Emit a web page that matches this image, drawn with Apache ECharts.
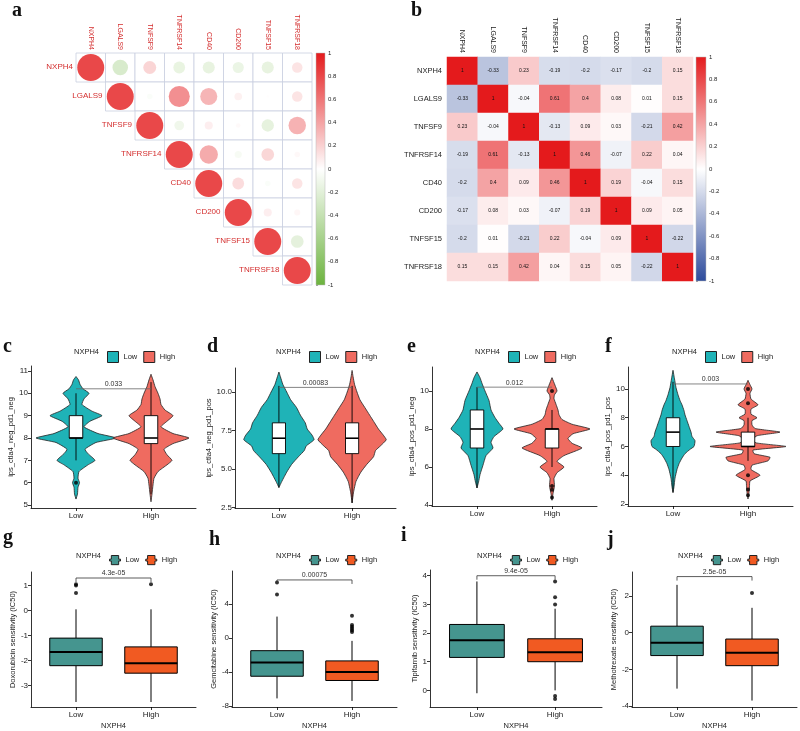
<!DOCTYPE html>
<html><head><meta charset="utf-8">
<script src="https://cdn.jsdelivr.net/npm/echarts@6/dist/echarts.min.js"></script>
<style>html,body{margin:0;padding:0;background:#fff}#main{width:800px;height:731px}</style>
</head><body><div id="main"></div>
<script>
// ---------------- DATA ----------------
const GENES = ['NXPH4','LGALS9','TNFSF9','TNFRSF14','CD40','CD200','TNFSF15','TNFRSF18'];
const CORR = [
  [1,-0.33,0.23,-0.19,-0.2,-0.17,-0.2,0.15],
  [-0.33,1,-0.04,0.61,0.4,0.08,0.01,0.15],
  [0.23,-0.04,1,-0.13,0.09,0.03,-0.21,0.42],
  [-0.19,0.61,-0.13,1,0.46,-0.07,0.22,0.04],
  [-0.2,0.4,0.09,0.46,1,0.19,-0.04,0.15],
  [-0.17,0.08,0.03,-0.07,0.19,1,0.09,0.05],
  [-0.2,0.01,-0.21,0.22,-0.04,0.09,1,-0.22],
  [0.15,0.15,0.42,0.04,0.15,0.05,-0.22,1]
];
const COLORBAR_TICKS = [1,0.8,0.6,0.4,0.2,0,-0.2,-0.4,-0.6,-0.8,-1];
const GROUPS = ['Low','High'];

// violin densities: [y, density]
const C_LOW_DENS = [[5.27,0],[5.5,1.5],[5.8,2],[6.0,3.5],[6.2,2],[6.5,3],[6.8,12],[7.0,19],[7.3,12],[7.5,9],[7.8,20],[8.0,40],[8.2,22],[8.5,8],[8.75,14],[9.0,26],[9.2,16],[9.5,6],[9.75,8],[10.0,13],[10.2,7],[10.4,4],[10.6,2.5],[10.75,0]];
const C_HIGH_DENS = [[5.15,0],[5.5,1],[5.9,2],[6.2,3],[6.5,7],[6.8,16],[7.0,21],[7.25,16],[7.5,13],[7.75,22],[8.0,38],[8.2,22],[8.5,10],[8.75,16],[9.0,22],[9.25,14],[9.5,10],[9.75,9],[10.0,7],[10.3,4],[10.6,2],[10.85,0]];
const D_LOW_DENS = [[3.8,0],[4.2,3],[4.8,8],[5.3,13],[5.8,20],[6.2,26],[6.5,28],[6.9,36],[7.2,34],[7.6,29],[8.0,27],[8.5,22],[9.0,18],[9.5,12],[10.0,8],[10.5,4],[11.0,1.5],[11.3,0]];
const D_HIGH_DENS = [[2.8,0],[3.5,1.5],[4.2,4],[4.8,9],[5.3,15],[5.8,22],[6.2,24],[6.5,29],[6.9,35],[7.2,32],[7.6,27],[8.0,23],[8.5,18],[9.0,13],[9.5,8],[10.0,5],[10.5,2.5],[11.0,1],[11.4,0]];
const E_LOW_DENS = [[4.9,0],[5.2,1.5],[5.6,3],[6.1,6],[6.6,9],[7.0,16],[7.3,14],[7.6,17],[8.0,26],[8.3,22],[8.6,18],[9.0,14],[9.5,12],[10.0,8],[10.4,5],[10.7,3],[11.0,0]];
const E_HIGH_DENS = [[4.25,0],[4.6,1],[5.0,2.5],[5.4,2],[5.7,5],[6.0,12],[6.3,5],[6.6,12],[7.0,30],[7.25,20],[7.5,16],[7.75,21],[8.0,38],[8.25,20],[8.5,10],[8.75,7],[9.0,6],[9.3,4],[9.6,2],[9.8,2.5],[10.0,5],[10.3,3],[10.7,0]];
const F_LOW_DENS = [[2.8,0],[3.2,1],[3.8,2],[4.4,4],[4.8,6],[5.2,9],[5.5,12],[5.8,17],[6.0,21],[6.4,22],[6.7,19],[7.0,18],[7.4,16],[7.8,14],[8.2,12],[8.5,11],[8.9,9],[9.2,7],[9.6,5],[10.1,3],[10.7,1.5],[11.3,0]];
const F_HIGH_DENS = [[2.35,0],[2.8,1],[3.2,1.5],[3.6,2],[4.0,12],[4.4,3],[4.7,4],[5.0,20],[5.25,22],[5.5,6],[5.75,5],[6.0,38],[6.25,8],[6.5,5],[6.75,9],[7.0,32],[7.25,7],[7.5,4],[7.8,4],[8.0,9],[8.25,3],[8.6,3],[8.9,10],[9.3,3],[9.7,2],[10.0,4],[10.3,2],[10.6,0]];

// box stats: [lowerWhisker, Q1, median, Q3, upperWhisker] for Low, High
const C_BOX = [[7,8,8,9,10],[5.5,7.75,8,9,10.5]];
const D_BOX = [[3.8,6,7,8,10.4],[2.8,6,7,8,10.4]];
const E_BOX = [[4.9,7,8,9,10.2],[6,7,8,8,9]];
const F_BOX = [[2.8,6,7,8,10.5],[5,6,6,7,8]];
const G_BOX = [[-3.65,-2.2,-1.65,-1.1,0.05],[-3.65,-2.5,-2.1,-1.45,0.05]];
const H_BOX = [[-7.1,-4.5,-2.9,-1.5,2.5],[-7.4,-5.0,-4.0,-2.7,-0.35]];
const I_BOX = [[-0.1,1.15,1.75,2.3,3.8],[0.0,1.0,1.33,1.8,2.85]];
const J_BOX = [[-3.05,-1.25,-0.55,0.35,2.6],[-3.7,-1.8,-1.1,-0.35,1.35]];

// outliers [Low list, High list]
const C_OUT = [[6.0],[]];
const D_OUT = [[],[]];
const E_OUT = [[],[10,5.0,4.8,4.4]];
const F_OUT = [[],[10,9,4,3,2.6]];
const G_OUT = [[1.05,1.0,0.7],[1.05]];
const H_OUT = [[6.5,5.1],[2.6,1.5,1.3,1.1,0.9,0.7]];
const I_OUT = [[],[3.8,3.25,3.0,-0.2,-0.3]];
const J_OUT = [[],[2.15]];

// p-values and bracket heights
const P_TEXT = {c:'0.033', d:'0.00083', e:'0.012', f:'0.003', g:'4.3e-05', h:'0.00075', i:'9.4e-05', j:'2.5e-05'};
const P_Y = {c:10.2, d:10.3, e:10.2, f:10.35, g:1.3, h:6.8, i:4.0, j:3.05};

// tick labels
const C_TICKS = [5,6,7,8,9,10,11];
const D_TICKS = [2.5,5.0,7.5,10.0];
const E_TICKS = [4,6,8,10];
const F_TICKS = [2,4,6,8,10];
const G_TICKS = [-3,-2,-1,0,1];
const H_TICKS = [-8,-4,0,4];
const I_TICKS = [0,1,2,3,4];
const J_TICKS = [-4,-2,0,2];

// ---------------- STYLE / LAYOUT ----------------
const FONT = 'Liberation Sans, Arial, Helvetica, sans-serif';
const RED_TXT = '#d42f2f';
const VIOLIN_COL = ['#1fb3b7','#ef6b60'];
const BOX_COL = ['#45958f','#f15a22'];
const VSCALE = 1/75;

const chart = echarts.init(document.getElementById('main'), null, {renderer:'canvas'});

const grids = [], xAxes = [], yAxes = [], series = [], legends = [], graphics = [];

function addGrid(g){ grids.push(g); return grids.length-1; }

// ---- Panel a ----
const gA = addGrid({left:76, top:53, width:236, height:232});
xAxes.push({type:'category', gridIndex:gA, data:GENES, position:'top', axisLine:{show:false}, axisTick:{show:false},
  axisLabel:{rotate:90, fontSize:7, color:RED_TXT, margin:3, fontFamily:FONT}, splitLine:{show:false}});
yAxes.push({type:'category', gridIndex:gA, data:GENES, inverse:true, show:false});
const cellData = [], circleData = [];
for (let i=0;i<GENES.length;i++) for (let j=i;j<GENES.length;j++){ cellData.push([j,i]); circleData.push([j,i,CORR[i][j]]); }
series.push({type:'custom', xAxisIndex:gA, yAxisIndex:gA, data:cellData, encode:{x:0,y:1}, silent:true, z:1,
  renderItem:(p,api)=>{ const c=api.coord([api.value(0),api.value(1)]); const s=api.size([1,1]);
    return {type:'rect', shape:{x:c[0]-s[0]/2, y:c[1]-s[1]/2, width:s[0], height:s[1]}, style:{fill:'#fff', stroke:'#c9cfdf', lineWidth:0.8}}; }});
const circleIdx = series.length;
series.push({type:'scatter', xAxisIndex:gA, yAxisIndex:gA, data:circleData, z:3, silent:true,
  symbolSize:(v)=>27*Math.sqrt(Math.abs(v[2]))});
series.push({type:'custom', xAxisIndex:gA, yAxisIndex:gA, data:GENES.map((g,i)=>[i,i]), encode:{x:0,y:1}, silent:true, z:4,
  renderItem:(p,api)=>{ const c=api.coord([api.value(0),api.value(1)]); const s=api.size([1,1]);
    return {type:'text', style:{x:c[0]-s[0]/2-3, y:c[1]-1, text:GENES[p.dataIndex], align:'right', verticalAlign:'middle', fill:RED_TXT, font:'8px '+FONT}}; }});

// colorbar helper
function addColorbar(rect, stops){
  const gi = addGrid(rect);
  xAxes.push({type:'value', gridIndex:gi, min:0, max:1, show:false});
  yAxes.push({type:'value', gridIndex:gi, min:-1, max:1, position:'right', axisLine:{show:false},
    axisTick:{show:true, length:2, inside:false, lineStyle:{color:'#555',width:0.6}, customValues:COLORBAR_TICKS},
    axisLabel:{fontSize:6, color:'#222', margin:3, fontFamily:FONT, customValues:COLORBAR_TICKS, formatter:(v)=>String(v)},
    splitLine:{show:false}});
  series.push({type:'custom', xAxisIndex:gi, yAxisIndex:gi, data:[[0,0]], encode:{x:0,y:1}, silent:true,
    renderItem:(p,api)=>{ const a=api.coord([0,1]); const b=api.coord([1,-1]);
      return {type:'rect', shape:{x:a[0], y:a[1], width:b[0]-a[0], height:b[1]-a[1]},
        style:{fill:new echarts.graphic.LinearGradient(0,0,0,1,[{offset:0,color:stops[2]},{offset:0.5,color:stops[1]},{offset:1,color:stops[0]}]), stroke:'#bbb', lineWidth:0.5}}; }});
}
const A_COLORS = ['#6cb33e','#ffffff','#e41a1c'];
const B_COLORS = ['#2d4b9c','#ffffff','#e41a1c'];
addColorbar({left:316, top:53, width:9, height:232}, A_COLORS);

// ---- Panel b ----
const gB = addGrid({left:447, top:57, width:246, height:224});
xAxes.push({type:'category', gridIndex:gB, data:GENES, position:'top', axisLine:{show:false}, axisTick:{show:false},
  axisLabel:{rotate:90, fontSize:7, color:'#222', margin:4, fontFamily:FONT}});
yAxes.push({type:'category', gridIndex:gB, data:GENES, inverse:true, axisLine:{show:false}, axisTick:{show:false},
  axisLabel:{fontSize:7.5, color:'#222', margin:5, fontFamily:FONT}});
const heatData = [];
for (let i=0;i<GENES.length;i++) for (let j=0;j<GENES.length;j++) heatData.push([j,i,CORR[i][j]]);
const heatIdx = series.length;
series.push({type:'heatmap', xAxisIndex:gB, yAxisIndex:gB, data:heatData, silent:true,
  label:{show:true, fontSize:5, color:'#111', fontFamily:FONT, formatter:(p)=>String(p.value[2])}});
addColorbar({left:696, top:57, width:10, height:224}, B_COLORS);

// ---- violin / box panels ----
function makeAxes(gi, cfg){
  xAxes.push({type:'value', gridIndex:gi, min:0.4, max:2.6,
    axisLine:{show:true, onZero:false, lineStyle:{color:'#000', width:0.8}},
    axisTick:{show:true, length:3, lineStyle:{color:'#000', width:0.8}, customValues:[1,2]},
    axisLabel:{fontSize:8, color:'#222', margin:4, fontFamily:FONT, customValues:[1,2], formatter:(v)=>GROUPS[Math.round(v)-1]||''},
    splitLine:{show:false},
    name:cfg.xName||'', nameLocation:'middle', nameGap:15, nameTextStyle:{fontSize:7.5, color:'#222', fontFamily:FONT}});
  yAxes.push({type:'value', gridIndex:gi, min:cfg.yMin, max:cfg.yMax,
    axisLine:{show:true, onZero:false, lineStyle:{color:'#000', width:0.8}},
    axisTick:{show:true, length:3, lineStyle:{color:'#000', width:0.8}, customValues:cfg.ticks},
    axisLabel:{fontSize:8, color:'#222', margin:3, fontFamily:FONT, customValues:cfg.ticks, formatter:cfg.fmt||((v)=>String(v))},
    splitLine:{show:false},
    name:cfg.yName, nameLocation:'middle', nameGap:cfg.nameGap, nameTextStyle:{fontSize:7.5, color:'#222', fontFamily:FONT}});
}

function boxRender(half, fill, medW, lw){
  return (p, api)=>{
    const x=api.value(0), lo=api.value(1), q1=api.value(2), md=api.value(3), q3=api.value(4), hi=api.value(5);
    const pLo=api.coord([x,lo]), pHi=api.coord([x,hi]), pQ1=api.coord([x,q1]), pQ3=api.coord([x,q3]);
    const a=api.coord([x-half,q3]), b=api.coord([x+half,q1]);
    const mL=api.coord([x-half,md]), mR=api.coord([x+half,md]);
    return {type:'group', children:[
      {type:'line', shape:{x1:pHi[0],y1:pHi[1],x2:pQ3[0],y2:pQ3[1]}, style:{stroke:'#000', lineWidth:lw}},
      {type:'line', shape:{x1:pLo[0],y1:pLo[1],x2:pQ1[0],y2:pQ1[1]}, style:{stroke:'#000', lineWidth:lw}},
      {type:'rect', shape:{x:a[0], y:a[1], width:b[0]-a[0], height:b[1]-a[1]}, style:{fill:fill, stroke:'#000', lineWidth:lw}},
      {type:'line', shape:{x1:mL[0],y1:mL[1],x2:mR[0],y2:mR[1]}, style:{stroke:'#000', lineWidth:medW}}
    ]};
  };
}

function addBracket(gi, key, tickPx, color){
  series.push({type:'custom', xAxisIndex:gi, yAxisIndex:gi, data:[[1,2,P_Y[key]]], encode:{x:[0,1],y:2}, silent:true, z:6,
    renderItem:(p,api)=>{
      const a=api.coord([api.value(0), api.value(2)]), b=api.coord([api.value(1), api.value(2)]);
      return {type:'group', children:[
        {type:'polyline', shape:{points:[[a[0],a[1]+tickPx],[a[0],a[1]],[b[0],b[1]],[b[0],b[1]+tickPx]]}, style:{stroke:color, lineWidth:0.8, fill:null}},
        {type:'text', style:{x:(a[0]+b[0])/2, y:a[1]-1, text:P_TEXT[key], align:'center', verticalAlign:'bottom', fill:'#333', font:'7px '+FONT}}
      ]};
    }});
}

function addOutliers(gi, out){
  const d=[]; out.forEach((arr,k)=>arr.forEach(v=>d.push([k+1,v])));
  series.push({type:'scatter', xAxisIndex:gi, yAxisIndex:gi, data:d, symbolSize:4, itemStyle:{color:'#000'}, silent:true, z:5});
}

function addLegend(left, top, colors, icon){
  legends.push({left:left, top:top, orient:'horizontal', itemWidth:11, itemHeight:11, itemGap:6, selectedMode:false, icon:icon,
    textStyle:{fontSize:7.5, color:'#222', fontFamily:FONT},
    data:GROUPS.map((g,k)=>({name:g, itemStyle:{color:colors[k], borderColor:'#222', borderWidth:1}}))});
  graphics.push({type:'text', left:left-28, top:top+1.5, style:{text:'NXPH4', font:'7.5px '+FONT, fill:'#222'}});
}

const violinPanels = [
  {key:'c', grid:{left:31, top:366, width:165, height:142}, yMin:4.87, yMax:11.22, ticks:C_TICKS, yName:'ips_ctla4_neg_pd1_neg', nameGap:14, dens:[C_LOW_DENS,C_HIGH_DENS], box:C_BOX, out:C_OUT, legendLeft:102},
  {key:'d', grid:{left:235, top:368, width:161, height:140}, yMin:2.47, yMax:11.56, ticks:D_TICKS, fmt:(v)=>v.toFixed(1), yName:'ips_ctla4_neg_pd1_pos', nameGap:20, dens:[D_LOW_DENS,D_HIGH_DENS], box:D_BOX, out:D_OUT, legendLeft:304},
  {key:'e', grid:{left:432, top:367, width:165, height:139}, yMin:3.95, yMax:11.26, ticks:E_TICKS, yName:'ips_ctla4_pos_pd1_neg', nameGap:16, dens:[E_LOW_DENS,E_HIGH_DENS], box:E_BOX, out:E_OUT, legendLeft:503},
  {key:'f', grid:{left:628, top:367, width:165, height:139}, yMin:1.86, yMax:11.53, ticks:F_TICKS, yName:'ips_ctla4_pos_pd1_pos', nameGap:15, dens:[F_LOW_DENS,F_HIGH_DENS], box:F_BOX, out:F_OUT, legendLeft:700}
];
violinPanels.forEach(cfg=>{
  const gi = addGrid(cfg.grid);
  makeAxes(gi, cfg);
  GROUPS.forEach((g,k)=>{
    const prof = cfg.dens[k];
    series.push({type:'custom', name:g, xAxisIndex:gi, yAxisIndex:gi, data:[[k+1, prof[0][0]]], encode:{x:0,y:1}, silent:true, z:2,
      renderItem:(p,api)=>{
        const x=api.value(0); const pts=[];
        prof.forEach(([y,d])=>pts.push(api.coord([x+d*VSCALE,y])));
        for (let m=prof.length-1;m>=0;m--) pts.push(api.coord([x-prof[m][1]*VSCALE, prof[m][0]]));
        return {type:'polygon', shape:{points:pts, smooth:0.15}, style:{fill:VIOLIN_COL[k], stroke:'#222', lineWidth:0.8}};
      }});
  });
  series.push({type:'custom', xAxisIndex:gi, yAxisIndex:gi, data:cfg.box.map((b,k)=>[k+1].concat(b)), encode:{x:0,y:[1,2,3,4,5]}, silent:true, z:3,
    renderItem:boxRender(0.09, '#fff', 1.6, 0.9)});
  addOutliers(gi, cfg.out);
  addBracket(gi, cfg.key, 0, '#666');
  addLegend(cfg.legendLeft, 346, VIOLIN_COL, 'rect');
});

const boxPanels = [
  {key:'g', grid:{left:31, top:572, width:165, height:140}, yMin:-3.85, yMax:1.54, ticks:G_TICKS, yName:'Doxorubicin sensitivity (IC50)', nameGap:13, box:G_BOX, out:G_OUT, legendLeft:104},
  {key:'h', grid:{left:232, top:571, width:165, height:141}, yMin:-8.11, yMax:7.85, ticks:H_TICKS, yName:'Gemcitabine sensitivity (IC50)', nameGap:13, box:H_BOX, out:H_OUT, legendLeft:304},
  {key:'i', grid:{left:430, top:570, width:172, height:141}, yMin:-0.58, yMax:4.2, ticks:I_TICKS, yName:'Tipifarnib sensitivity (IC50)', nameGap:11, box:I_BOX, out:I_OUT, legendLeft:505},
  {key:'j', grid:{left:632, top:572, width:165, height:141}, yMin:-4.05, yMax:3.3, ticks:J_TICKS, yName:'Methotrexate sensitivity (IC50)', nameGap:13, box:J_BOX, out:J_OUT, legendLeft:706}
];
const BOX_ICON = 'path://M0,4H2V0H10V4H12V6H10V10H2V6H0Z';
boxPanels.forEach(cfg=>{
  cfg.xName = 'NXPH4';
  const gi = addGrid(cfg.grid);
  makeAxes(gi, cfg);
  GROUPS.forEach((g,k)=>{
    series.push({type:'custom', name:g, xAxisIndex:gi, yAxisIndex:gi, data:[[k+1].concat(cfg.box[k])], encode:{x:0,y:[1,2,3,4,5]}, silent:true, z:3,
      renderItem:boxRender(0.35, BOX_COL[k], 2, 1)});
  });
  addOutliers(gi, cfg.out);
  addBracket(gi, cfg.key, 4, '#333');
  addLegend(cfg.legendLeft, 550, BOX_COL, BOX_ICON);
});

// panel letters
const LETTERS = [['a',12,1],['b',411,1],['c',3,337],['d',207,337],['e',407,337],['f',605,337],['g',3,528],['h',209,530],['i',401,526],['j',607,530]];
LETTERS.forEach(([t,x,y])=>graphics.push({type:'text', left:x, top:y, style:{text:t, font:'bold 20px Liberation Serif, Times New Roman, serif', fill:'#111'}}));

chart.setOption({
  animation:false,
  backgroundColor:'#fff',
  textStyle:{fontFamily:FONT},
  grid:grids, xAxis:xAxes, yAxis:yAxes,
  visualMap:[
    {type:'continuous', show:false, min:-1, max:1, dimension:2, seriesIndex:circleIdx, inRange:{color:A_COLORS}},
    {type:'continuous', show:false, min:-1, max:1, dimension:2, seriesIndex:heatIdx, inRange:{color:B_COLORS}}
  ],
  legend:legends,
  graphic:graphics,
  series:series
});
</script></body></html>
